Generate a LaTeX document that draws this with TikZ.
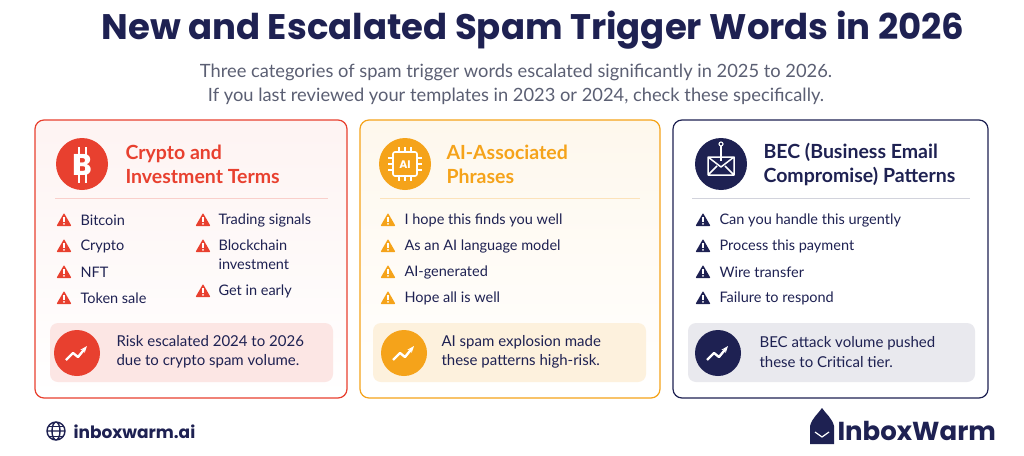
\documentclass[tikz,border=0pt]{standalone}
\usepackage{fontspec}
\setmainfont{Poppins}
\newfontfamily\bodyfont{Lato}
\usetikzlibrary{positioning,arrows.meta,calc}
\definecolor{navy}{HTML}{1E2152}
\definecolor{redc}{HTML}{E8402F}
\definecolor{orangec}{HTML}{F5A31A}
\definecolor{greyt}{HTML}{5B5F73}
\tikzset{%
	card/.style     = {draw=#1, line width=1.2pt, rounded corners=9pt},
	note/.style     = {rounded corners=8pt},
	ctitle/.style   = {anchor=west, align=left, font=\bodyfont\bfseries\fontsize{19.5}{24}\selectfont, text=#1},
	item/.style     = {anchor=west, align=left, font=\bodyfont\fontsize{14.5}{19}\selectfont, text=navy},
	notetext/.style = {anchor=west, align=left, font=\bodyfont\fontsize{15}{19.5}\selectfont, text=navy},
	warn/.pic       = {\fill[#1, rounded corners=0.8pt] (-7.5,6) -- (7.5,6) -- (0,-7) -- cycle;
	                   \fill[white] (-0.9,-2.8) rectangle (0.9,1.8); \fill[white] (0,3.8) circle (1);},
	trend/.pic      = {\draw[white, line width=2.4pt, line join=round, -{Stealth[length=7pt]}]
	                   (-11,7) -- (-4,0) -- (1,4) -- (10,-7);},
}
\begin{document}
\begin{tikzpicture}[x=1pt,y=-1pt]
	\useasboundingbox[fill=white] (0,0) rectangle (1024,455);
	% heading
	\node[font=\fontsize{35.5}{40}\selectfont\bfseries, text=navy] (title) at (533,30) {New and Escalated Spam Trigger Words in 2026};
	\node[font=\bodyfont\fontsize{18.3}{24}\selectfont, text=greyt, align=center] (sub) at (516,84)
	  {Three categories of spam trigger words escalated significantly in 2025 to 2026.\\If you last reviewed your templates in 2023 or 2024, check these specifically.};
	
	% cards
	\draw[card=redc, top color=redc!6, bottom color=white] (35,120) rectangle (347,398);
	\draw[card=orangec, top color=orangec!8, bottom color=white] (360,120) rectangle (660,398);
	\draw[card=navy, fill=white] (673,120) rectangle (988,398);
	
	% crypto card
	\fill[redc] (82,164) circle (26);
	\node[text=white, font=\fontsize{30}{30}\selectfont\bfseries] (btc) at (82,165) {B};
	\draw[white, line width=2pt] (79,147) -- (79,183) (86,147) -- (86,183);
	\node[ctitle=redc] (t1) at (122,164) {Crypto and\\Investment Terms};
	\draw[redc!25, line width=0.8pt] (55,198) -- (328,198);
	\foreach \txt [count=\i] in {Bitcoin,Crypto,NFT,Token sale} {
		\pic at (64,{194+26*\i}) {warn=redc};
		\node[item] at (77,{194+26*\i}) {\txt};
	}
	\pic at (203,220) {warn=redc};
	\node[item] at (215,220) {Trading signals};
	\pic at (203,246) {warn=redc};
	\node[item, anchor=north west] at (215,236) {Blockchain\\investment};
	\pic at (203,291) {warn=redc};
	\node[item] at (215,291) {Get in early};
	\fill[note, redc!13] (50,323) rectangle (333,382);
	\fill[redc] (77,353) circle (23);
	\pic at (77,353) {trend};
	\node[notetext] (n1) at (113,352) {Risk escalated 2024 to 2026\\due to crypto spam volume.};
	
	% AI card
	\fill[orangec] (405,164) circle (26);
	\draw[white, line width=1.6pt, rounded corners=2pt] (393,152) rectangle (417,176);
	\foreach \d in {-6,0,6} {
		\draw[white, line width=1.2pt] (405+\d,147) -- (405+\d,152) (405+\d,176) -- (405+\d,181)
		  (388,164+\d) -- (393,164+\d) (417,164+\d) -- (422,164+\d);
	}
	\node[text=white, font=\fontsize{11}{11}\selectfont\bfseries] (ai) at (405,164.5) {AI};
	\node[ctitle=orangec] (t2) at (443,164) {AI-Associated\\Phrases};
	\draw[orangec!30, line width=0.8pt] (380,198) -- (640,198);
	\foreach \txt [count=\i] in {I hope this finds you well,As an AI language model,AI-generated,Hope all is well} {
		\pic at (388,{194+26*\i}) {warn=orangec};
		\node[item] at (401,{194+26*\i}) {\txt};
	}
	\fill[note, orangec!15] (373,323) rectangle (646,382);
	\fill[orangec] (404,353) circle (23);
	\pic at (404,353) {trend};
	\node[notetext] (n2) at (438,352) {AI spam explosion made\\these patterns high-risk.};
	
	% BEC card
	\fill[navy] (721,164) circle (26);
	\draw[white, line width=1.5pt, line join=round] (708,157) rectangle (734,175) (708,157) -- (721,167) -- (734,157)
	  (708,175) -- (717,166) (734,175) -- (725,166);
	\draw[white, line width=1.3pt] (721,161) -- (721,146);
	\draw[white, line width=1.1pt] (721,144) circle (2);
	\node[ctitle=navy] (t3) at (760,164) {BEC (Business Email\\Compromise) Patterns};
	\draw[navy!20, line width=0.8pt] (692,198) -- (970,198);
	\foreach \txt [count=\i] in {Can you handle this urgently,Process this payment,Wire transfer,Failure to respond} {
		\pic at (703,{194+26*\i}) {warn=navy};
		\node[item] at (716,{194+26*\i}) {\txt};
	}
	\fill[note, navy!10] (688,323) rectangle (975,382);
	\fill[navy] (718,353) circle (23);
	\pic at (718,353) {trend};
	\node[notetext] (n3) at (756,352) {BEC attack volume pushed\\these to Critical tier.};
	
	% footer
	\draw[navy, line width=1.4pt] (56,431) circle (9) (56,431) ellipse (4 and 9) (47,431) -- (65,431);
	\draw[navy, line width=1pt] (48.5,426) -- (63.5,426) (48.5,436) -- (63.5,436);
	\node[anchor=west, font=\fontsize{17}{20}\selectfont\bfseries, text=navy] (site) at (70,432) {inboxwarm.ai};
	\fill[navy] (810,444) -- (810,426) .. controls (812,418) and (818,414) .. (822,408)
	  .. controls (826,414) and (832,418) .. (834,426) -- (834,444) -- cycle;
	\draw[white, line width=1.2pt] (815,432) -- (822,437) -- (829,432);
	\node[anchor=west, font=\fontsize{26}{30}\selectfont\bfseries, text=navy] (logo) at (834,431) {InboxWarm};
\end{tikzpicture}
\end{document}
